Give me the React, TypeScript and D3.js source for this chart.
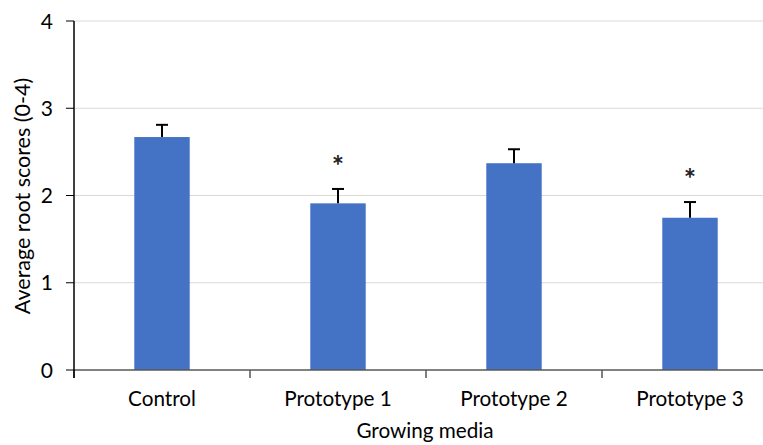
import React from "react";
import * as d3 from "d3";

const categories = ["Control", "Prototype 1", "Prototype 2", "Prototype 3"];
const means = [2.67, 1.91, 2.37, 1.745];
const errors = [0.14, 0.165, 0.16, 0.18];
const significant = [false, true, false, true];
const yTicks = [0, 1, 2, 3, 4];

const W = 763;
const H = 445;
const left = 74;
const band = 176;
const top = 21;
const bottom = 370;

export default function App() {
  const x = d3.scaleBand<string>().domain(categories).range([left, left + band * 4]).paddingInner(0).paddingOuter(0);
  const y = d3.scaleLinear().domain([0, 4]).range([bottom, top]);
  const bw = band * 0.315;
  const font = "Lato, 'Open Sans', sans-serif";
  return (
    <svg width={W} height={H} style={{ position: "absolute", left: 0, top: 0, background: "#fff" }}>
      {yTicks.map((t) => (
        <g key={t}>
          {t > 0 && <line x1={left} x2={W} y1={y(t)} y2={y(t)} stroke="#d9d9d9" strokeWidth={1} />}
          <line x1={left - 8} x2={left} y1={y(t)} y2={y(t)} stroke="#000" strokeWidth={1} />
          <text x={53} y={y(t)} dy="0.36em" textAnchor="end" fontSize={21} fontFamily={font} fill="#000">
            {t}
          </text>
        </g>
      ))}
      {categories.map((c, i) => {
        const cx = x(c)! + band / 2;
        return (
          <g key={c}>
            <rect x={cx - bw / 2} y={y(means[i])} width={bw} height={bottom - y(means[i])} fill="#4472c4" />
            <line x1={cx} x2={cx} y1={y(means[i])} y2={y(means[i] + errors[i])} stroke="#000" strokeWidth={2} />
            <line x1={cx - 6} x2={cx + 6} y1={y(means[i] + errors[i])} y2={y(means[i] + errors[i])} stroke="#000" strokeWidth={2} />
            {significant[i] && (
              <text x={cx} y={y(means[i] + errors[i]) - 13} textAnchor="middle" fontSize={29} fontWeight="bold" fontFamily={font} fill="#222">
                *
              </text>
            )}
            <text x={cx} y={405.5} textAnchor="middle" fontSize={20.7} fontFamily={font} fill="#000">
              {c}
            </text>
          </g>
        );
      })}
      {[0, 1, 2, 3, 4].map((i) => (
        <line key={i} x1={left + i * band} x2={left + i * band} y1={bottom} y2={bottom + 8} stroke="#000" strokeWidth={1} />
      ))}
      <line x1={left} x2={W} y1={bottom} y2={bottom} stroke="#595959" strokeWidth={1.5} />
      <line x1={left} x2={left} y1={top} y2={bottom + 8} stroke="#000" strokeWidth={1.5} />
      <text x={425} y={438} textAnchor="middle" fontSize={20.7} fontFamily={font} fill="#000">
        Growing media
      </text>
      <text transform={`translate(30,196) rotate(-90)`} textAnchor="middle" fontSize={21.5} fontFamily={font} fill="#000">
        Average root scores (0-4)
      </text>
    </svg>
  );
}
